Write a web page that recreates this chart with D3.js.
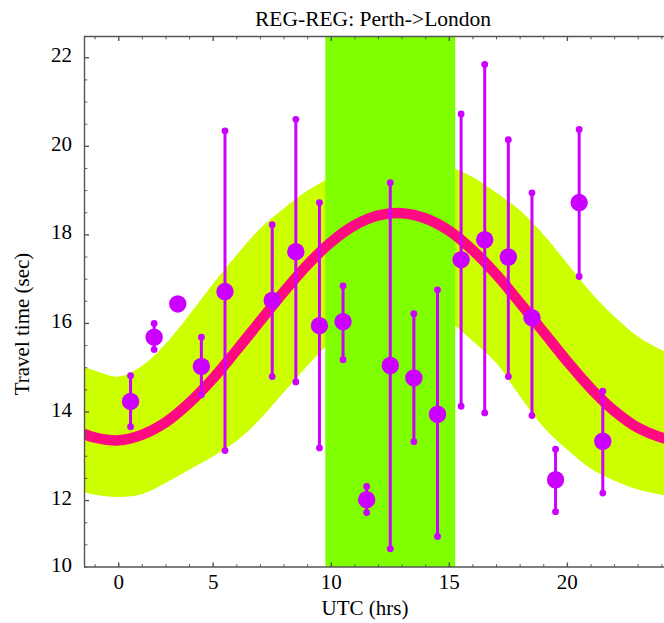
<!DOCTYPE html>
<html>
<head>
<meta charset="utf-8">
<script src="https://cdn.jsdelivr.net/npm/d3@7"></script>
<style>
  body { margin: 0; background: #fff; }
  text { font-family: "Liberation Serif", "Times New Roman", serif; fill: #000; }
</style>
</head>
<body>
<div id="chart"></div>
<script>
// measured points: hour bin, mean travel time, error bar top / bottom
const hours = [1.5, 2.5, 3.5, 4.5, 5.5, 7.5, 8.5, 9.5, 10.5, 11.5, 12.5, 13.5, 14.5, 15.5, 16.5, 17.5, 18.5, 19.5, 20.5, 21.5];
const means = [14.24, 15.69, 16.44, 15.03, 16.72, 16.52, 17.62, 15.95, 16.04, 12.02, 15.05, 14.77, 13.95, 17.44, 17.89, 17.50, 16.13, 12.47, 18.73, 13.34];
const errHi = [14.82, 16.00, 16.44, 15.69, 20.35, 18.23, 20.61, 18.73, 16.85, 12.32, 19.18, 16.22, 16.76, 20.73, 21.85, 20.15, 18.95, 13.16, 20.38, 14.47];
const errLo = [13.67, 15.41, 16.44, 14.39, 13.13, 14.80, 14.68, 13.19, 15.18, 11.73, 10.91, 13.33, 11.19, 14.13, 13.98, 14.80, 13.92, 11.75, 17.06, 12.17];

// model curve and its band, read at whole hours
const modelHours = [-0.5, 0, 1, 2, 3, 4, 5, 6, 7, 8, 9, 10, 11, 12, 13, 14, 15, 16, 17, 18, 19, 20, 21, 22, 23, 24, 24.5];
const modelMid = [13.51, 13.42, 13.36, 13.49, 13.77, 14.21, 14.76, 15.40, 16.06, 16.72, 17.33, 17.84, 18.22, 18.44, 18.49, 18.37, 18.09, 17.65, 17.10, 16.46, 15.80, 15.14, 14.53, 14.02, 13.64, 13.42, 13.37];
const bandHi = [15.02, 14.93, 14.80, 15.05, 15.55, 16.20, 16.90, 17.55, 18.15, 18.60, 19.00, 19.30, 19.55, 19.70, 19.75, 19.70, 19.55, 19.30, 18.95, 18.55, 18.00, 17.35, 16.70, 16.15, 15.70, 15.40, 15.30];
const bandLo = [12.20, 12.13, 12.08, 12.15, 12.40, 12.70, 13.00, 13.35, 13.85, 14.45, 15.05, 15.60, 16.05, 16.35, 16.45, 16.35, 16.05, 15.60, 15.10, 14.35, 13.65, 13.15, 12.72, 12.45, 12.25, 12.13, 12.10];

// highlighted window (hrs)
const windowSpan = [9.75, 15.25];

const xTickValues = [1, 5, 10, 15, 20];
const xTickLabels = ["0", "5", "10", "15", "20"];
const yTickValues = [10, 12, 14, 16, 18, 20, 22];

const width = 664;
const height = 623;
const pLeft = 84.5, pRight = 664, pTop = 36.5, pBottom = 567;

const svg = d3.select("#chart").append("svg")
  .attr("width", width)
  .attr("height", height);

const x = d3.scaleLinear().domain([-0.45, 24.05]).range([pLeft, 663]);
const y = d3.scaleLinear().domain([10.5, 22.48]).range([pBottom, pTop]).clamp(true);

svg.append("clipPath").attr("id", "plot")
  .append("rect")
    .attr("x", pLeft)
    .attr("y", pTop)
    .attr("width", pRight - pLeft)
    .attr("height", pBottom - pTop);

const plot = svg.append("g").attr("clip-path", "url(#plot)");

const band = d3.area()
  .x((d, i) => x(modelHours[i]))
  .y0((d, i) => y(bandLo[i]))
  .y1((d, i) => y(bandHi[i]))
  .curve(d3.curveCatmullRom);

plot.append("path")
  .attr("d", band(modelHours))
  .attr("fill", "#ccff00");

plot.append("rect")
  .attr("x", x(windowSpan[0]))
  .attr("y", pTop)
  .attr("width", x(windowSpan[1]) - x(windowSpan[0]))
  .attr("height", pBottom - pTop)
  .attr("fill", "#80ff00");

const line = d3.line()
  .x((d, i) => x(modelHours[i]))
  .y((d, i) => y(modelMid[i]))
  .curve(d3.curveCatmullRom);

plot.append("path")
  .attr("d", line(modelHours))
  .attr("fill", "none")
  .attr("stroke", "#ff0a82")
  .attr("stroke-width", 10.5);

// error bars
const pts = plot.append("g")
  .selectAll("g")
  .data(hours)
  .enter()
    .append("g");

pts.append("line")
  .attr("x1", d => x(d))
  .attr("x2", d => x(d))
  .attr("y1", (d, i) => y(errLo[i]))
  .attr("y2", (d, i) => y(errHi[i]))
  .attr("stroke", "#cc00ff")
  .attr("stroke-width", 3);

pts.append("circle")
  .attr("cx", d => x(d))
  .attr("cy", (d, i) => y(errHi[i]))
  .attr("r", 3.4)
  .attr("fill", "#cc00ff");

pts.append("circle")
  .attr("cx", d => x(d))
  .attr("cy", (d, i) => y(errLo[i]))
  .attr("r", 3.4)
  .attr("fill", "#cc00ff");

pts.append("circle")
  .attr("cx", d => x(d))
  .attr("cy", (d, i) => y(means[i]))
  .attr("r", 8.7)
  .attr("fill", "#cc00ff");

// frame and ticks
const frame = svg.append("g")
  .attr("stroke", "#555")
  .attr("fill", "none");

frame.append("path")
  .attr("d", `M${pRight},${pTop}H${pLeft}V${pBottom}H${pRight}`)
  .attr("stroke-width", 1.4);

const xMinor = d3.range(0, 25, 1).filter(v => !xTickValues.includes(v));
const yMinor = d3.range(10.5, 22.01, 0.5).filter(v => !yTickValues.includes(v));

frame.selectAll(".xmaj")
  .data(xTickValues)
  .enter().append("path")
    .attr("d", d => `M${x(d)},${pBottom}v-4.5M${x(d)},${pTop}v4.5`)
    .attr("stroke-width", 1.4);
frame.selectAll(".xmin")
  .data(xMinor)
  .enter().append("path")
    .attr("d", d => `M${x(d)},${pBottom}v-2.8M${x(d)},${pTop}v2.8`)
    .attr("stroke-width", 1);
frame.selectAll(".ymaj")
  .data(yTickValues.filter(v => v > 10))
  .enter().append("path")
    .attr("d", d => `M${pLeft},${y(d)}h4.5`)
    .attr("stroke-width", 1.4);
frame.selectAll(".ymin")
  .data(yMinor)
  .enter().append("path")
    .attr("d", d => `M${pLeft},${y(d)}h2.8`)
    .attr("stroke-width", 1);

svg.append("g")
  .selectAll("text")
  .data(xTickValues)
  .enter().append("text")
    .text((d, i) => xTickLabels[i])
    .attr("x", d => x(d))
    .attr("y", 589)
    .style("text-anchor", "middle")
    .style("font-size", "21px");

svg.append("g")
  .selectAll("text")
  .data(yTickValues)
  .enter().append("text")
    .text(d => d)
    .attr("x", 72)
    .attr("y", d => y(d) + 4.5)
    .style("text-anchor", "end")
    .style("font-size", "21px");

svg.append("text")
  .text("REG-REG: Perth->London")
  .attr("x", 373)
  .attr("y", 26)
  .style("text-anchor", "middle")
  .style("font-size", "21.5px");

svg.append("text")
  .text("UTC (hrs)")
  .attr("x", 365)
  .attr("y", 615)
  .style("text-anchor", "middle")
  .style("font-size", "21px");

svg.append("text")
  .text("Travel time (sec)")
  .attr("transform", "translate(29,324) rotate(-90)")
  .style("text-anchor", "middle")
  .style("font-size", "21px");
</script>
</body>
</html>
